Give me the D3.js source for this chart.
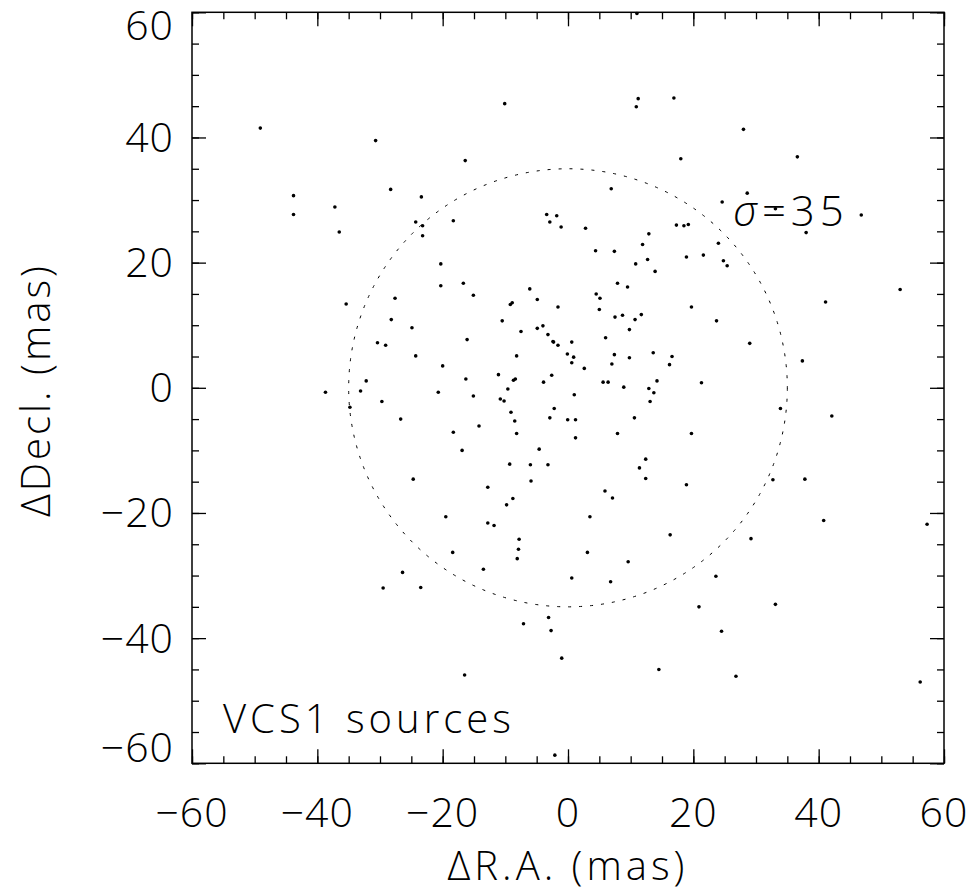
<!DOCTYPE html>
<head>
<meta charset="utf-8">
<style type="text/css">
body { margin: 0; background: #fff; }
text { font-family: "Open Sans", "DejaVu Sans", sans-serif; font-weight: 300; fill: #000; }
.tick line { stroke: #000; stroke-width: 1.3; }
</style>
</head>
<body>
<script src="https://d3js.org/d3.v7.min.js"></script>
<script type="text/javascript">
// source offsets in mas
var raX = [
  -49.1, -30.7, -10.1, -16.4, -43.8, -43.8, -37.2, -36.5, -28.3, -23.4,
  -24.3, -23.2, -23.2, -18.3, -3.4, -1.8, -2.9, -1.1, -20.3, -20.3,
  -16.7, -15.1, -35.4, -27.6, -28.2, -30.4, -29.1, -24.9, -24.3, -20.0,
  -16.1, -6.1, -4.9, -9.2, -8.9, -1.6, -10.5, -7.5, -4.0, -4.9,
  -3.2, -2.4, -2.3, -1.6, 0.6, -0.1, 0.9, 0.6, -8.2, -16.3,
  -11.1, -8.7, -8.4, -3.9, -2.6, -32.2, -33.1, -38.7, -20.7, -15.1,
  -9.6, -10.8, -10.2, 1.0,
  -29.7, -34.8, -26.7, -18.3, -14.2, -16.9, -9.1, -8.5, -8.2, -2.2,
  -2.9, -0.05, 1.2, 1.2, -4.6, -9.3, -6.0, -3.2, -5.9, -24.7,
  -12.8, -8.8, -9.8, -19.5, -12.8, -11.8, -7.8, -7.9, -8.1, -18.4,
  -13.5, -26.4, -29.5, -23.5, 0.6, -7.1, -3.1, -2.7, -1.0, -16.5, -2.1,
  11.0, 11.2, 10.9, 16.9, 28.0, 36.6, 18.0, 6.9, 28.6, 24.6,
  33.1, 46.8, 38.0, 2.8, 17.3, 18.5, 19.2, 12.9, 11.9, 4.4,
  7.4, 24.0, 12.7, 10.8, 13.9, 18.9, 21.6, 24.8, 25.4, 7.9,
  9.5, 4.5, 5.1, 5.0, 7.5, 8.7, 11.7, 10.7, 9.8, 19.7,
  23.7, 41.1, 53.0, 6.0, 2.6, 7.4, 7.0, 9.8, 13.6, 16.6,
  16.2, 29.0, 37.4, 5.6, 6.4, 8.9, 14.2, 21.3, 12.9, 13.7,
  13.1, 10.6, 7.9, 19.7, 33.9, 42.1, 12.4, 11.4, 12.4, 5.9,
  7.1, 18.9, 32.7, 37.8, 3.5, 40.8, 57.3, 16.3, 29.2, 3.1,
  9.6, 6.8, 23.6, 20.9, 33.1, 24.5, 14.5, 26.8, 56.2
];
var decY = [
  41.5, 39.5, 45.4, 36.3, 30.7, 27.7, 28.9, 24.9, 31.7, 30.5,
  26.5, 25.9, 24.3, 26.7, 27.7, 27.5, 26.5, 25.7, 19.8, 16.3,
  16.7, 14.8, 13.4, 14.3, 10.9, 7.2, 6.8, 9.6, 5.1, 3.5,
  7.7, 15.8, 14.1, 13.3, 13.6, 12.9, 10.7, 9.0, 9.9, 9.5,
  8.5, 7.4, 7.3, 6.8, 7.3, 5.4, 4.9, 4.0, 5.1, 1.4,
  2.1, 1.2, 1.4, 0.9, 2.0, 1.1, -0.5, -0.7, -0.7, -1.3,
  -0.2, -1.8, -2.1, -1.1,
  -2.2, -3.1, -5.0, -7.1, -6.1, -10.0, -3.9, -5.3, -7.3, -3.3,
  -4.8, -5.1, -5.1, -8.0, -9.8, -12.2, -12.3, -12.3, -14.9, -14.6,
  -15.9, -17.7, -18.7, -20.6, -21.6, -22.0, -24.2, -25.8, -27.3, -26.3,
  -29.0, -29.5, -32.0, -31.9, -30.4, -37.7, -36.7, -38.8, -43.2, -45.9, -58.7,
  59.8, 46.2, 44.9, 46.3, 41.3, 36.9, 36.6, 31.8, 31.1, 29.7,
  28.6, 27.6, 24.8, 25.5, 26.0, 25.9, 26.1, 24.6, 22.9, 21.9,
  21.8, 23.1, 20.5, 19.8, 18.6, 20.9, 21.2, 20.3, 19.5, 16.7,
  16.1, 15.0, 14.3, 12.5, 11.3, 11.6, 11.7, 10.9, 9.3, 12.9,
  10.7, 13.7, 15.7, 8.0, 3.1, 5.3, 3.8, 4.8, 5.6, 5.0,
  3.7, 7.1, 4.3, 0.9, 0.9, 0.1, 1.1, 0.8, -0.1, -0.8,
  -2.2, -4.8, -7.3, -7.3, -3.3, -4.5, -11.4, -12.8, -14.5, -16.5,
  -17.6, -15.5, -14.7, -14.6, -20.6, -21.2, -21.8, -23.5, -24.1, -26.3,
  -27.8, -31.0, -30.1, -35.0, -34.6, -38.9, -45.0, -46.1, -47.0
];
var majorTicks = [-60, -40, -20, 0, 20, 40, 60];
var minorTicks = d3.range(-60, 61, 5);
var tickLabels = ['\u221260', '\u221240', '\u221220', '0', '20', '40', '60'];
var sigma = 35;

var svg = d3.select('body').append('svg')
        .attr('width', 973)
        .attr('height', 894);

var padL = 192, padR = 944, padT = 12.3, padB = 763.3;
var x = d3.scaleLinear().domain([-60, 60]).range([padL, padR]);
var y = d3.scaleLinear().domain([-60, 60]).range([padB, padT]);

// ticks on all four sides, pointing inward
function ticks(axis, tx, ty, vals, len) {
  var g = svg.append('g')
          .attr('transform', 'translate(' + tx + ',' + ty + ')')
          .call(axis.tickValues(vals).tickSize(-len).tickSizeOuter(0).tickFormat(''));
  g.select('.domain').remove();
}
[[minorTicks, 7], [majorTicks, 14]].forEach(function(t) {
  ticks(d3.axisBottom(x), 0, padB, t[0], t[1]);
  ticks(d3.axisTop(x), 0, padT, t[0], t[1]);
  ticks(d3.axisLeft(y), padL, 0, t[0], t[1]);
  ticks(d3.axisRight(y), padR, 0, t[0], t[1]);
});

// frame
svg.append('rect')
        .attr('x', padL).attr('y', padT)
        .attr('width', padR - padL).attr('height', padB - padT)
        .attr('fill', 'none')
        .attr('stroke', '#000')
        .attr('stroke-width', 1.5);

// tick labels
svg.selectAll('.xlab').data(majorTicks).enter().append('text')
        .attr('class', 'xlab')
        .attr('x', function(d) { return x(d); })
        .attr('y', 826.7)
        .attr('text-anchor', 'middle')
        .style('font-size', '41px')
        .style('letter-spacing', '1px')
        .text(function(d, i) { return tickLabels[i]; });

svg.selectAll('.ylab').data(majorTicks).enter().append('text')
        .attr('class', 'ylab')
        .attr('x', 174)
        .attr('y', function(d) {
          if (d === 60) return padT + 28;
          if (d === -60) return padB - 1;
          return y(d) + 14.5;
        })
        .attr('text-anchor', 'end')
        .style('font-size', '41px')
        .style('letter-spacing', '1px')
        .text(function(d, i) { return tickLabels[i]; });

// axis titles
svg.append('text')
        .attr('x', 568).attr('y', 880)
        .attr('text-anchor', 'middle')
        .style('font-size', '40px')
        .style('letter-spacing', '4px')
        .text('\u0394R.A. (mas)');

svg.append('text')
        .attr('transform', 'translate(50,390) rotate(-90)')
        .attr('text-anchor', 'middle')
        .style('font-size', '40px')
        .style('letter-spacing', '3px')
        .text('\u0394Decl. (mas)');

// sigma circle
svg.append('ellipse')
        .attr('cx', x(0)).attr('cy', y(0))
        .attr('rx', x(sigma) - x(0))
        .attr('ry', y(0) - y(sigma))
        .attr('fill', 'none')
        .attr('stroke', '#000')
        .attr('stroke-width', 1)
        .attr('stroke-dasharray', '3,8');

// sources
svg.selectAll('.src').data(raX).enter().append('circle')
        .attr('class', 'src')
        .attr('cx', function(d) { return x(d); })
        .attr('cy', function(d, i) { return y(decY[i]); })
        .attr('r', 1.8)
        .attr('fill', '#000');

// annotations
var lab = svg.append('text')
        .attr('x', 733).attr('y', 226)
        .style('font-size', '42px')
        .style('letter-spacing', '5px');
lab.append('tspan').style('font-style', 'italic').text('\u03c3');
lab.append('tspan').text('=' + sigma);

svg.append('text')
        .attr('x', 223).attr('y', 732.7)
        .style('font-size', '40px')
        .style('letter-spacing', '4px')
        .text('VCS1 sources');
</script>
</body>
